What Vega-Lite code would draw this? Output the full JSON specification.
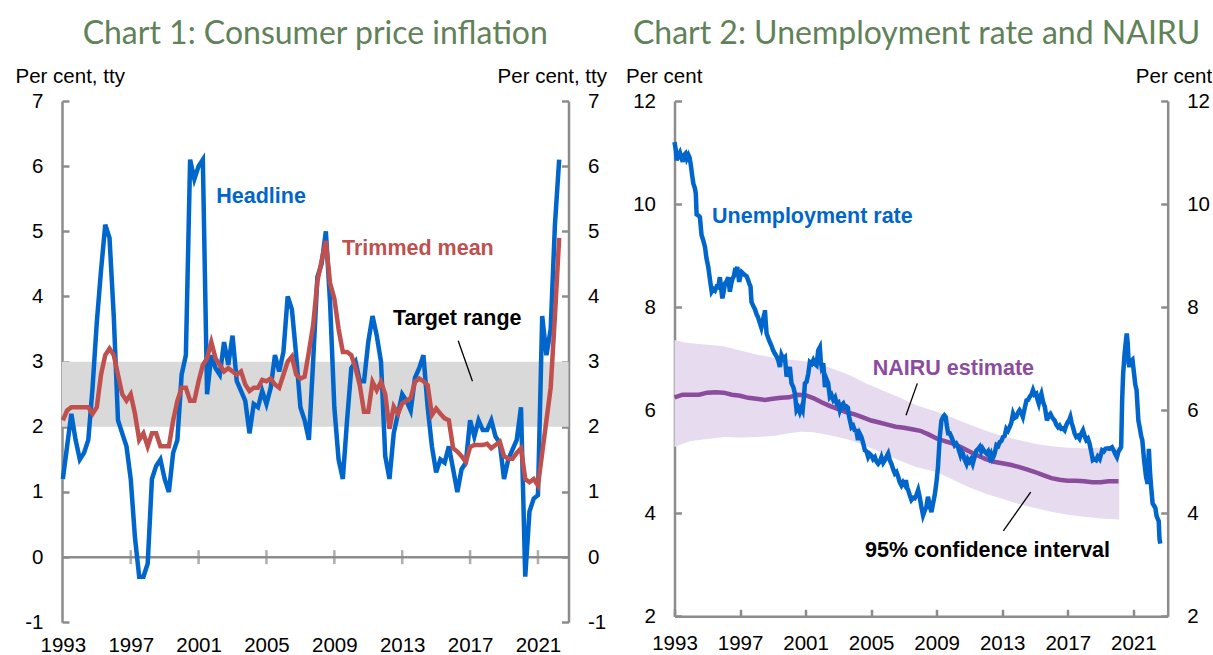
{
  "$schema": "https://vega.github.io/schema/vega-lite/v6.json",
  "background": "white",
  "padding": {"left": 15, "top": 18, "right": 0, "bottom": 0},
  "bounds": "flush",
  "spacing": 105.5,
  "datasets": {
    "cpi": [
      {"t":1993.0,"h":1.2,"tm":2.1},{"t":1993.25,"h":1.7,"tm":2.25},{"t":1993.5,"h":2.2,"tm":2.3},{"t":1993.75,"h":1.8,"tm":2.3},
      {"t":1994.0,"h":1.5,"tm":2.3},{"t":1994.25,"h":1.6,"tm":2.3},{"t":1994.5,"h":1.8,"tm":2.3},{"t":1994.75,"h":2.6,"tm":2.2},
      {"t":1995.0,"h":3.6,"tm":2.3},{"t":1995.25,"h":4.4,"tm":2.8},{"t":1995.5,"h":5.1,"tm":3.1},{"t":1995.75,"h":4.9,"tm":3.2},
      {"t":1996.0,"h":3.7,"tm":3.1},{"t":1996.25,"h":2.1,"tm":2.8},{"t":1996.5,"h":1.9,"tm":2.5},{"t":1996.75,"h":1.7,"tm":2.4},
      {"t":1997.0,"h":1.2,"tm":2.5},{"t":1997.25,"h":0.3,"tm":2.2},{"t":1997.5,"h":-0.3,"tm":1.8},{"t":1997.75,"h":-0.3,"tm":1.9},
      {"t":1998.0,"h":-0.1,"tm":1.7},{"t":1998.25,"h":1.2,"tm":1.9},{"t":1998.5,"h":1.4,"tm":1.9},{"t":1998.75,"h":1.5,"tm":1.7},
      {"t":1999.0,"h":1.2,"tm":1.7},{"t":1999.25,"h":1.0,"tm":1.7},{"t":1999.5,"h":1.6,"tm":2.1},{"t":1999.75,"h":1.8,"tm":2.4},
      {"t":2000.0,"h":2.8,"tm":2.6},{"t":2000.25,"h":3.1,"tm":2.6},{"t":2000.5,"h":6.1,"tm":2.4},{"t":2000.75,"h":5.8,"tm":2.4},
      {"t":2001.0,"h":6.0,"tm":2.7},{"t":2001.25,"h":6.1,"tm":2.95},{"t":2001.5,"h":2.5,"tm":3.05},{"t":2001.75,"h":3.1,"tm":3.3},
      {"t":2002.0,"h":2.9,"tm":3.05},{"t":2002.25,"h":2.8,"tm":2.95},{"t":2002.5,"h":3.3,"tm":2.85},{"t":2002.75,"h":2.95,"tm":2.9},
      {"t":2003.0,"h":3.4,"tm":2.85},{"t":2003.25,"h":2.7,"tm":2.8},{"t":2003.5,"h":2.55,"tm":2.85},{"t":2003.75,"h":2.4,"tm":2.65},
      {"t":2004.0,"h":1.9,"tm":2.55},{"t":2004.25,"h":2.35,"tm":2.6},{"t":2004.5,"h":2.3,"tm":2.6},{"t":2004.75,"h":2.55,"tm":2.72},
      {"t":2005.0,"h":2.35,"tm":2.7},{"t":2005.25,"h":2.6,"tm":2.74},{"t":2005.5,"h":3.1,"tm":2.65},{"t":2005.75,"h":2.85,"tm":2.6},
      {"t":2006.0,"h":3.15,"tm":2.8},{"t":2006.25,"h":4.0,"tm":3.0},{"t":2006.5,"h":3.8,"tm":3.08},{"t":2006.75,"h":3.1,"tm":2.8},
      {"t":2007.0,"h":2.3,"tm":2.74},{"t":2007.25,"h":2.1,"tm":2.77},{"t":2007.5,"h":1.8,"tm":3.15},{"t":2007.75,"h":3.0,"tm":3.56},
      {"t":2008.0,"h":4.3,"tm":4.23},{"t":2008.25,"h":4.5,"tm":4.55},{"t":2008.5,"h":5.0,"tm":4.85},{"t":2008.75,"h":3.9,"tm":4.2},
      {"t":2009.0,"h":2.3,"tm":3.97},{"t":2009.25,"h":1.5,"tm":3.5},{"t":2009.5,"h":1.2,"tm":3.15},{"t":2009.75,"h":2.1,"tm":3.15},
      {"t":2010.0,"h":2.9,"tm":3.1},{"t":2010.25,"h":3.0,"tm":2.9},{"t":2010.5,"h":2.7,"tm":2.64},{"t":2010.75,"h":2.7,"tm":2.23},
      {"t":2011.0,"h":3.3,"tm":2.23},{"t":2011.25,"h":3.7,"tm":2.69},{"t":2011.5,"h":3.4,"tm":2.56},{"t":2011.75,"h":3.0,"tm":2.69},
      {"t":2012.0,"h":1.55,"tm":2.5},{"t":2012.25,"h":1.2,"tm":1.97},{"t":2012.5,"h":1.9,"tm":2.31},{"t":2012.75,"h":2.2,"tm":2.2},
      {"t":2013.0,"h":2.5,"tm":2.36},{"t":2013.25,"h":2.4,"tm":2.4},{"t":2013.5,"h":2.25,"tm":2.44},{"t":2013.75,"h":2.75,"tm":2.69},
      {"t":2014.0,"h":2.9,"tm":2.74},{"t":2014.25,"h":3.1,"tm":2.7},{"t":2014.5,"h":2.3,"tm":2.64},{"t":2014.75,"h":1.7,"tm":2.18},
      {"t":2015.0,"h":1.3,"tm":2.28},{"t":2015.25,"h":1.5,"tm":2.2},{"t":2015.5,"h":1.45,"tm":2.13},{"t":2015.75,"h":1.7,"tm":2.1},
      {"t":2016.0,"h":1.35,"tm":1.67},{"t":2016.25,"h":1.0,"tm":1.62},{"t":2016.5,"h":1.35,"tm":1.55},{"t":2016.75,"h":1.45,"tm":1.46},
      {"t":2017.0,"h":2.1,"tm":1.69},{"t":2017.25,"h":1.85,"tm":1.72},{"t":2017.5,"h":2.1,"tm":1.72},{"t":2017.75,"h":1.95,"tm":1.72},
      {"t":2018.0,"h":1.95,"tm":1.74},{"t":2018.25,"h":2.1,"tm":1.67},{"t":2018.5,"h":1.85,"tm":1.72},{"t":2018.75,"h":1.75,"tm":1.77},
      {"t":2019.0,"h":1.2,"tm":1.55},{"t":2019.25,"h":1.5,"tm":1.51},{"t":2019.5,"h":1.65,"tm":1.51},{"t":2019.75,"h":1.8,"tm":1.6},
      {"t":2020.0,"h":2.3,"tm":1.67},{"t":2020.25,"h":-0.3,"tm":1.2},{"t":2020.5,"h":0.7,"tm":1.15},{"t":2020.75,"h":0.9,"tm":1.2},
      {"t":2021.0,"h":0.95,"tm":1.1},{"t":2021.25,"h":3.7,"tm":1.6},{"t":2021.5,"h":3.1,"tm":2.1},{"t":2021.75,"h":3.5,"tm":2.6},
      {"t":2022.0,"h":5.1,"tm":3.7},{"t":2022.25,"h":6.1,"tm":4.9}
    ],
    "ur": [
      {"t":1993.0,"u":11.2},{"t":1993.08,"u":11.05},{"t":1993.13,"u":10.85},{"t":1993.25,"u":10.95},{"t":1993.33,"u":11.0},{"t":1993.42,"u":10.9},
      {"t":1993.5,"u":10.82},{"t":1993.58,"u":10.95},{"t":1993.67,"u":10.98},{"t":1993.75,"u":10.88},{"t":1993.85,"u":10.95},{"t":1993.92,"u":10.9},
      {"t":1994.0,"u":10.75},{"t":1994.08,"u":10.55},{"t":1994.15,"u":10.4},{"t":1994.25,"u":10.3},{"t":1994.3,"u":10.2},{"t":1994.35,"u":9.8},
      {"t":1994.45,"u":9.78},{"t":1994.55,"u":9.75},{"t":1994.65,"u":9.4},{"t":1994.75,"u":9.3},{"t":1994.86,"u":9.17},{"t":1994.95,"u":8.95},
      {"t":1995.06,"u":8.78},{"t":1995.17,"u":8.52},{"t":1995.27,"u":8.3},{"t":1995.37,"u":8.35},{"t":1995.47,"u":8.32},{"t":1995.57,"u":8.4},
      {"t":1995.67,"u":8.39},{"t":1995.77,"u":8.58},{"t":1995.85,"u":8.35},{"t":1995.92,"u":8.17},{"t":1996.0,"u":8.3},{"t":1996.08,"u":8.46},
      {"t":1996.18,"u":8.5},{"t":1996.28,"u":8.58},{"t":1996.38,"u":8.3},{"t":1996.46,"u":8.45},{"t":1996.54,"u":8.55},{"t":1996.62,"u":8.6},
      {"t":1996.69,"u":8.71},{"t":1996.76,"u":8.7},{"t":1996.83,"u":8.78},{"t":1996.9,"u":8.6},{"t":1996.95,"u":8.49},{"t":1997.02,"u":8.6},
      {"t":1997.1,"u":8.68},{"t":1997.2,"u":8.65},{"t":1997.3,"u":8.62},{"t":1997.4,"u":8.6},{"t":1997.5,"u":8.52},{"t":1997.57,"u":8.45},
      {"t":1997.64,"u":8.4},{"t":1997.7,"u":8.1},{"t":1997.77,"u":8.05},{"t":1997.84,"u":8.0},{"t":1997.92,"u":7.95},{"t":1998.0,"u":7.87},
      {"t":1998.1,"u":7.8},{"t":1998.2,"u":7.7},{"t":1998.3,"u":7.6},{"t":1998.4,"u":7.75},{"t":1998.47,"u":7.7},{"t":1998.52,"u":7.94},
      {"t":1998.57,"u":7.7},{"t":1998.62,"u":7.49},{"t":1998.72,"u":7.4},{"t":1998.82,"u":7.32},{"t":1998.92,"u":7.25},{"t":1999.02,"u":7.16},
      {"t":1999.12,"u":7.1},{"t":1999.22,"u":7.05},{"t":1999.33,"u":6.97},{"t":1999.43,"u":6.84},{"t":1999.53,"u":7.07},{"t":1999.63,"u":7.0},
      {"t":1999.74,"u":7.03},{"t":1999.84,"u":6.65},{"t":1999.94,"u":6.75},{"t":2000.04,"u":6.84},{"t":2000.14,"u":6.52},{"t":2000.25,"u":6.45},
      {"t":2000.35,"u":6.32},{"t":2000.45,"u":6.0},{"t":2000.55,"u":6.05},{"t":2000.65,"u":5.96},{"t":2000.75,"u":6.05},{"t":2000.82,"u":6.0},
      {"t":2000.9,"u":6.26},{"t":2000.96,"u":6.52},{"t":2001.06,"u":6.55},{"t":2001.16,"u":6.7},{"t":2001.26,"u":6.93},{"t":2001.37,"u":6.9},
      {"t":2001.47,"u":6.97},{"t":2001.57,"u":6.9},{"t":2001.67,"u":6.87},{"t":2001.77,"u":7.16},{"t":2001.87,"u":7.22},{"t":2001.93,"u":6.95},
      {"t":2001.98,"u":6.84},{"t":2002.08,"u":6.91},{"t":2002.18,"u":6.45},{"t":2002.28,"u":6.6},{"t":2002.38,"u":6.52},{"t":2002.48,"u":6.26},
      {"t":2002.58,"u":6.3},{"t":2002.69,"u":6.2},{"t":2002.8,"u":6.25},{"t":2002.9,"u":6.13},{"t":2003.0,"u":6.15},{"t":2003.09,"u":6.0},
      {"t":2003.2,"u":6.1},{"t":2003.3,"u":6.13},{"t":2003.4,"u":6.05},{"t":2003.5,"u":6.07},{"t":2003.58,"u":6.05},{"t":2003.66,"u":5.87},
      {"t":2003.8,"u":5.67},{"t":2003.9,"u":5.7},{"t":2004.0,"u":5.61},{"t":2004.1,"u":5.6},{"t":2004.2,"u":5.42},{"t":2004.3,"u":5.55},
      {"t":2004.41,"u":5.48},{"t":2004.52,"u":5.35},{"t":2004.62,"u":5.22},{"t":2004.72,"u":5.2},{"t":2004.82,"u":5.09},{"t":2004.92,"u":5.15},
      {"t":2005.02,"u":5.12},{"t":2005.12,"u":5.05},{"t":2005.23,"u":5.09},{"t":2005.33,"u":5.0},{"t":2005.43,"u":4.96},{"t":2005.53,"u":5.0},
      {"t":2005.63,"u":5.09},{"t":2005.74,"u":4.98},{"t":2005.84,"u":5.03},{"t":2005.94,"u":5.1},{"t":2006.04,"u":5.16},{"t":2006.14,"u":5.03},
      {"t":2006.25,"u":4.95},{"t":2006.35,"u":4.85},{"t":2006.45,"u":4.77},{"t":2006.55,"u":4.8},{"t":2006.65,"u":4.71},{"t":2006.75,"u":4.6},
      {"t":2006.85,"u":4.54},{"t":2006.95,"u":4.6},{"t":2007.05,"u":4.55},{"t":2007.12,"u":4.64},{"t":2007.2,"u":4.5},{"t":2007.26,"u":4.45},
      {"t":2007.36,"u":4.35},{"t":2007.46,"u":4.26},{"t":2007.56,"u":4.3},{"t":2007.66,"u":4.29},{"t":2007.76,"u":4.35},{"t":2007.87,"u":4.45},
      {"t":2007.97,"u":4.3},{"t":2008.07,"u":4.12},{"t":2008.17,"u":3.96},{"t":2008.27,"u":4.05},{"t":2008.37,"u":4.12},{"t":2008.47,"u":4.32},
      {"t":2008.57,"u":4.15},{"t":2008.68,"u":4.02},{"t":2008.78,"u":4.19},{"t":2008.88,"u":4.35},{"t":2008.98,"u":4.58},{"t":2009.08,"u":4.9},
      {"t":2009.19,"u":5.48},{"t":2009.29,"u":5.8},{"t":2009.39,"u":5.87},{"t":2009.47,"u":5.9},{"t":2009.55,"u":5.87},{"t":2009.62,"u":5.7},
      {"t":2009.7,"u":5.55},{"t":2009.8,"u":5.55},{"t":2009.9,"u":5.48},{"t":2010.0,"u":5.4},{"t":2010.1,"u":5.32},{"t":2010.2,"u":5.35},
      {"t":2010.3,"u":5.29},{"t":2010.38,"u":5.2},{"t":2010.45,"u":5.13},{"t":2010.52,"u":5.2},{"t":2010.6,"u":5.16},{"t":2010.7,"u":5.05},
      {"t":2010.82,"u":4.96},{"t":2010.9,"u":5.05},{"t":2011.0,"u":5.0},{"t":2011.1,"u":5.05},{"t":2011.2,"u":4.96},{"t":2011.32,"u":5.1},
      {"t":2011.43,"u":5.22},{"t":2011.53,"u":5.25},{"t":2011.63,"u":5.29},{"t":2011.72,"u":5.2},{"t":2011.8,"u":5.26},{"t":2011.92,"u":5.2},
      {"t":2012.04,"u":5.16},{"t":2012.14,"u":5.2},{"t":2012.24,"u":5.09},{"t":2012.32,"u":5.15},{"t":2012.4,"u":5.06},{"t":2012.47,"u":5.1},
      {"t":2012.54,"u":5.16},{"t":2012.65,"u":5.32},{"t":2012.75,"u":5.3},{"t":2012.85,"u":5.38},{"t":2012.95,"u":5.4},{"t":2013.05,"u":5.48},
      {"t":2013.15,"u":5.5},{"t":2013.25,"u":5.64},{"t":2013.35,"u":5.6},{"t":2013.45,"u":5.67},{"t":2013.55,"u":5.75},{"t":2013.66,"u":5.93},
      {"t":2013.76,"u":5.85},{"t":2013.86,"u":5.87},{"t":2013.96,"u":5.95},{"t":2014.06,"u":6.0},{"t":2014.16,"u":5.95},{"t":2014.26,"u":5.87},
      {"t":2014.38,"u":6.05},{"t":2014.48,"u":6.19},{"t":2014.58,"u":6.2},{"t":2014.68,"u":6.26},{"t":2014.78,"u":6.3},{"t":2014.88,"u":6.39},
      {"t":2014.98,"u":6.3},{"t":2015.08,"u":6.32},{"t":2015.16,"u":6.2},{"t":2015.23,"u":6.13},{"t":2015.31,"u":6.25},{"t":2015.39,"u":6.32},
      {"t":2015.5,"u":6.15},{"t":2015.6,"u":6.07},{"t":2015.73,"u":5.8},{"t":2015.84,"u":5.9},{"t":2015.94,"u":5.93},{"t":2016.07,"u":5.85},
      {"t":2016.2,"u":5.8},{"t":2016.3,"u":5.72},{"t":2016.41,"u":5.67},{"t":2016.5,"u":5.7},{"t":2016.6,"u":5.64},{"t":2016.7,"u":5.65},
      {"t":2016.81,"u":5.61},{"t":2016.9,"u":5.7},{"t":2017.0,"u":5.77},{"t":2017.08,"u":5.8},{"t":2017.16,"u":5.87},{"t":2017.24,"u":5.75},
      {"t":2017.32,"u":5.67},{"t":2017.42,"u":5.55},{"t":2017.52,"u":5.48},{"t":2017.62,"u":5.5},{"t":2017.72,"u":5.45},{"t":2017.83,"u":5.55},
      {"t":2017.93,"u":5.61},{"t":2018.03,"u":5.5},{"t":2018.13,"u":5.42},{"t":2018.23,"u":5.45},{"t":2018.33,"u":5.35},{"t":2018.43,"u":5.2},
      {"t":2018.53,"u":5.03},{"t":2018.63,"u":5.05},{"t":2018.73,"u":5.03},{"t":2018.83,"u":5.1},{"t":2018.95,"u":5.05},{"t":2019.1,"u":5.22},
      {"t":2019.2,"u":5.2},{"t":2019.3,"u":5.25},{"t":2019.45,"u":5.26},{"t":2019.55,"u":5.25},{"t":2019.7,"u":5.28},{"t":2019.8,"u":5.22},
      {"t":2019.9,"u":5.15},{"t":2020.0,"u":5.09},{"t":2020.1,"u":5.2},{"t":2020.2,"u":5.25},{"t":2020.26,"u":5.29},{"t":2020.32,"u":6.2},
      {"t":2020.38,"u":6.7},{"t":2020.47,"u":7.1},{"t":2020.55,"u":7.35},{"t":2020.6,"u":7.49},{"t":2020.66,"u":7.3},{"t":2020.72,"u":6.9},
      {"t":2020.77,"u":6.84},{"t":2020.85,"u":6.95},{"t":2020.95,"u":6.98},{"t":2021.05,"u":6.7},{"t":2021.12,"u":6.5},{"t":2021.2,"u":6.39},
      {"t":2021.31,"u":5.8},{"t":2021.4,"u":5.65},{"t":2021.48,"u":5.5},{"t":2021.55,"u":5.42},{"t":2021.66,"u":5.03},{"t":2021.78,"u":4.7},
      {"t":2021.88,"u":4.57},{"t":2021.95,"u":5.25},{"t":2022.02,"u":4.8},{"t":2022.09,"u":4.51},{"t":2022.18,"u":4.19},{"t":2022.26,"u":4.15},
      {"t":2022.35,"u":4.1},{"t":2022.42,"u":3.95},{"t":2022.48,"u":3.9},{"t":2022.55,"u":3.85},{"t":2022.6,"u":3.5},{"t":2022.65,"u":3.41}
    ],
    "nairu": [
      {"t":1993.0,"n":6.25},{"t":1993.5,"n":6.3},{"t":1994.0,"n":6.3},{"t":1994.5,"n":6.3},{"t":1995.0,"n":6.34},{"t":1995.5,"n":6.35},
      {"t":1996.0,"n":6.34},{"t":1996.5,"n":6.3},{"t":1997.0,"n":6.28},{"t":1997.5,"n":6.24},{"t":1998.0,"n":6.22},{"t":1998.5,"n":6.2},
      {"t":1999.0,"n":6.22},{"t":1999.5,"n":6.24},{"t":2000.0,"n":6.25},{"t":2000.5,"n":6.3},{"t":2001.0,"n":6.29},{"t":2001.5,"n":6.23},
      {"t":2002.0,"n":6.15},{"t":2002.5,"n":6.08},{"t":2003.0,"n":6.02},{"t":2003.5,"n":5.96},{"t":2004.0,"n":5.92},{"t":2004.5,"n":5.86},
      {"t":2005.0,"n":5.8},{"t":2005.5,"n":5.76},{"t":2006.0,"n":5.72},{"t":2006.5,"n":5.68},{"t":2007.0,"n":5.66},{"t":2007.5,"n":5.63},
      {"t":2008.0,"n":5.6},{"t":2008.5,"n":5.53},{"t":2009.0,"n":5.45},{"t":2009.5,"n":5.4},{"t":2010.0,"n":5.35},{"t":2010.5,"n":5.28},
      {"t":2011.0,"n":5.2},{"t":2011.5,"n":5.12},{"t":2012.0,"n":5.05},{"t":2012.5,"n":5.0},{"t":2013.0,"n":4.97},{"t":2013.5,"n":4.94},
      {"t":2014.0,"n":4.9},{"t":2014.5,"n":4.85},{"t":2015.0,"n":4.8},{"t":2015.5,"n":4.74},{"t":2016.0,"n":4.68},{"t":2016.5,"n":4.65},
      {"t":2017.0,"n":4.63},{"t":2017.5,"n":4.63},{"t":2018.0,"n":4.62},{"t":2018.5,"n":4.6},{"t":2019.0,"n":4.6},{"t":2019.5,"n":4.62},
      {"t":2020.1,"n":4.62}
    ],
    "band": [
      {"t":1993.0,"lo":5.28,"hi":7.36},{"t":1993.5,"lo":5.35,"hi":7.32},{"t":1994.0,"lo":5.4,"hi":7.3},{"t":1995.0,"lo":5.44,"hi":7.27},
      {"t":1996.0,"lo":5.48,"hi":7.24},{"t":1997.0,"lo":5.47,"hi":7.16},{"t":1998.0,"lo":5.48,"hi":7.08},{"t":1999.0,"lo":5.5,"hi":7.02},
      {"t":2000.0,"lo":5.55,"hi":6.98},{"t":2000.7,"lo":5.58,"hi":6.96},{"t":2001.5,"lo":5.57,"hi":6.92},{"t":2002.7,"lo":5.5,"hi":6.8},
      {"t":2003.7,"lo":5.42,"hi":6.68},{"t":2004.7,"lo":5.3,"hi":6.52},{"t":2005.7,"lo":5.17,"hi":6.38},{"t":2006.7,"lo":5.03,"hi":6.25},
      {"t":2007.7,"lo":4.9,"hi":6.1},{"t":2009.0,"lo":4.8,"hi":5.97},{"t":2010.0,"lo":4.65,"hi":5.85},{"t":2011.0,"lo":4.5,"hi":5.72},
      {"t":2012.0,"lo":4.38,"hi":5.6},{"t":2013.0,"lo":4.28,"hi":5.5},{"t":2014.0,"lo":4.18,"hi":5.42},{"t":2015.0,"lo":4.1,"hi":5.35},
      {"t":2016.0,"lo":4.03,"hi":5.3},{"t":2017.0,"lo":3.97,"hi":5.27},{"t":2018.0,"lo":3.93,"hi":5.26},{"t":2019.0,"lo":3.9,"hi":5.27},
      {"t":2020.14,"lo":3.88,"hi":5.28}
    ]
  },
  "config": {
    "view": {"stroke": null},
    "axis": {
      "grid": false, "labelFont": "Liberation Sans", "labelFontSize": 20.5, "labelColor": "#000000",
      "titleFont": "Liberation Sans", "titleFontSize": 20.5, "titleFontWeight": "normal", "titleColor": "#000000",
      "domainColor": "#8c8c8c", "domainWidth": 2.5, "tickColor": "#8c8c8c", "tickWidth": 2.5, "tickSize": -7,
      "labelPadding": 26, "labelFlush": false, "labelOverlap": false
    },
    "title": {"font": "Lato", "fontSize": 32, "fontWeight": "normal", "color": "#5f8258", "anchor": "middle", "frame": "group", "baseline": "alphabetic", "offset": 15},
    "text": {"font": "Liberation Sans", "fontSize": 21.5, "fontWeight": "bold", "align": "left", "baseline": "alphabetic"}
  },
  "hconcat": [
    {
      "width": 506.5,
      "height": 521.3,
      "title": {"text": "Chart 1: Consumer price inflation"},
      "resolve": {"axis": {"y": "independent"}},
      "layer": [
        {
          "data": {"values": [{"lo": 2, "hi": 3}]},
          "mark": {"type": "rect", "color": "#d9d9d9"},
          "encoding": {
            "y": {"field": "lo", "type": "quantitative", "scale": {"domain": [-1, 7], "nice": false},
                  "axis": {"orient": "left", "values": [-1,0,1,2,3,4,5,6,7], "labelExpr": "'' + datum.value", "title": "Per cent, tty", "titleAngle": 0, "titleAlign": "left", "titleBaseline": "alphabetic", "titleX": -47, "titleY": -19}},
            "y2": {"field": "hi"}
          }
        },
        {
          "data": {"values": [{"z": 0}]},
          "mark": {"type": "rule", "color": "#8c8c8c", "strokeWidth": 2.5},
          "encoding": {"y": {"field": "z", "type": "quantitative", "axis": null}}
        },
        {
          "data": {"values": [{"t":1997},{"t":2001},{"t":2005},{"t":2009},{"t":2013},{"t":2017},{"t":2021}]},
          "mark": {"type": "tick", "orient": "vertical", "size": 14, "thickness": 2.5, "color": "#8c8c8c"},
          "encoding": {
            "x": {"field": "t", "type": "quantitative", "scale": {"domain": [1992.95, 2022.8], "nice": false, "zero": false},
                  "axis": {"values": [1993,1997,2001,2005,2009,2013,2017,2021], "format": "d", "domain": false, "ticks": false, "labelPadding": 13, "title": null}},
            "y": {"datum": 0, "type": "quantitative", "axis": null}
          }
        },
        {
          "data": {"name": "cpi"},
          "mark": {"type": "line", "color": "#0066cc", "strokeWidth": 4.5},
          "encoding": {
            "x": {"field": "t", "type": "quantitative"},
            "y": {"field": "h", "type": "quantitative",
                  "axis": {"orient": "right", "values": [-1,0,1,2,3,4,5,6,7], "labelExpr": "'' + datum.value", "title": "Per cent, tty", "titleAngle": 0, "titleAlign": "right", "titleBaseline": "alphabetic", "titleX": 38, "titleY": -19}}
          }
        },
        {
          "data": {"name": "cpi"},
          "mark": {"type": "line", "color": "#c0504d", "strokeWidth": 4.5},
          "encoding": {
            "x": {"field": "t", "type": "quantitative"},
            "y": {"field": "tm", "type": "quantitative", "axis": null}
          }
        },
        {
          "data": {"values": [{"t": 2002.04, "v": 5.44, "label": "Headline"}]},
          "mark": {"type": "text", "color": "#0066cc"},
          "encoding": {"x": {"field": "t", "type": "quantitative"}, "y": {"field": "v", "type": "quantitative", "axis": null}, "text": {"field": "label"}}
        },
        {
          "data": {"values": [{"t": 2009.45, "v": 4.64, "label": "Trimmed mean"}]},
          "mark": {"type": "text", "color": "#c0504d"},
          "encoding": {"x": {"field": "t", "type": "quantitative"}, "y": {"field": "v", "type": "quantitative", "axis": null}, "text": {"field": "label"}}
        },
        {
          "data": {"values": [{"t": 2012.45, "v": 3.56, "label": "Target range"}]},
          "mark": {"type": "text", "color": "#000000"},
          "encoding": {"x": {"field": "t", "type": "quantitative"}, "y": {"field": "v", "type": "quantitative", "axis": null}, "text": {"field": "label"}}
        },
        {
          "data": {"values": [{"t1": 2016.3, "v1": 3.32, "t2": 2017.14, "v2": 2.7}]},
          "mark": {"type": "rule", "color": "#000000", "strokeWidth": 1.3},
          "encoding": {"x": {"field": "t1", "type": "quantitative"}, "y": {"field": "v1", "type": "quantitative", "axis": null}, "x2": {"field": "t2"}, "y2": {"field": "v2"}}
        }
      ]
    },
    {
      "width": 493.2,
      "height": 515.3,
      "title": {"text": "Chart 2: Unemployment rate and NAIRU", "dx": -4.5},
      "resolve": {"axis": {"y": "independent"}},
      "layer": [
        {
          "data": {"name": "band"},
          "mark": {"type": "area", "color": "#e6dbef", "opacity": 1},
          "encoding": {
            "x": {"field": "t", "type": "quantitative", "scale": {"domain": [1993, 2023.1], "nice": false, "zero": false},
                  "axis": {"values": [1993,1997,2001,2005,2009,2013,2017,2021], "format": "d", "labelPadding": 24.5, "title": null}},
            "y": {"field": "lo", "type": "quantitative", "scale": {"domain": [2, 12], "nice": false},
                  "axis": {"orient": "left", "values": [2,4,6,8,10,12], "title": "Per cent", "titleAngle": 0, "titleAlign": "left", "titleBaseline": "alphabetic", "titleX": -49, "titleY": -19}},
            "y2": {"field": "hi"}
          }
        },
        {
          "data": {"name": "nairu"},
          "mark": {"type": "line", "color": "#8b4c9e", "strokeWidth": 4.5},
          "encoding": {
            "x": {"field": "t", "type": "quantitative"},
            "y": {"field": "n", "type": "quantitative", "axis": null}
          }
        },
        {
          "data": {"name": "ur"},
          "mark": {"type": "line", "color": "#0066cc", "strokeWidth": 4.5},
          "encoding": {
            "x": {"field": "t", "type": "quantitative"},
            "y": {"field": "u", "type": "quantitative",
                  "axis": {"orient": "right", "values": [2,4,6,8,10,12], "title": "Per cent", "titleAngle": 0, "titleAlign": "right", "titleBaseline": "alphabetic", "titleX": 44, "titleY": -19}}
          }
        },
        {
          "data": {"values": [{"t": 1995.29, "v": 9.64, "label": "Unemployment rate"}]},
          "mark": {"type": "text", "color": "#0066cc"},
          "encoding": {"x": {"field": "t", "type": "quantitative"}, "y": {"field": "v", "type": "quantitative", "axis": null}, "text": {"field": "label"}}
        },
        {
          "data": {"values": [{"t": 2005.1, "v": 6.68, "label": "NAIRU estimate"}]},
          "mark": {"type": "text", "color": "#8b4c9e"},
          "encoding": {"x": {"field": "t", "type": "quantitative"}, "y": {"field": "v", "type": "quantitative", "axis": null}, "text": {"field": "label"}}
        },
        {
          "data": {"values": [{"t": 2004.63, "v": 3.15, "label": "95% confidence interval"}]},
          "mark": {"type": "text", "color": "#000000"},
          "encoding": {"x": {"field": "t", "type": "quantitative"}, "y": {"field": "v", "type": "quantitative", "axis": null}, "text": {"field": "label"}}
        },
        {
          "data": {"values": [{"t1": 2007.82, "v1": 6.52, "t2": 2007.13, "v2": 5.9}, {"t1": 2014.74, "v1": 4.41, "t2": 2013.07, "v2": 3.66}]},
          "mark": {"type": "rule", "color": "#000000", "strokeWidth": 1.3},
          "encoding": {"x": {"field": "t1", "type": "quantitative"}, "y": {"field": "v1", "type": "quantitative", "axis": null}, "x2": {"field": "t2"}, "y2": {"field": "v2"}}
        }
      ]
    }
  ]
}
